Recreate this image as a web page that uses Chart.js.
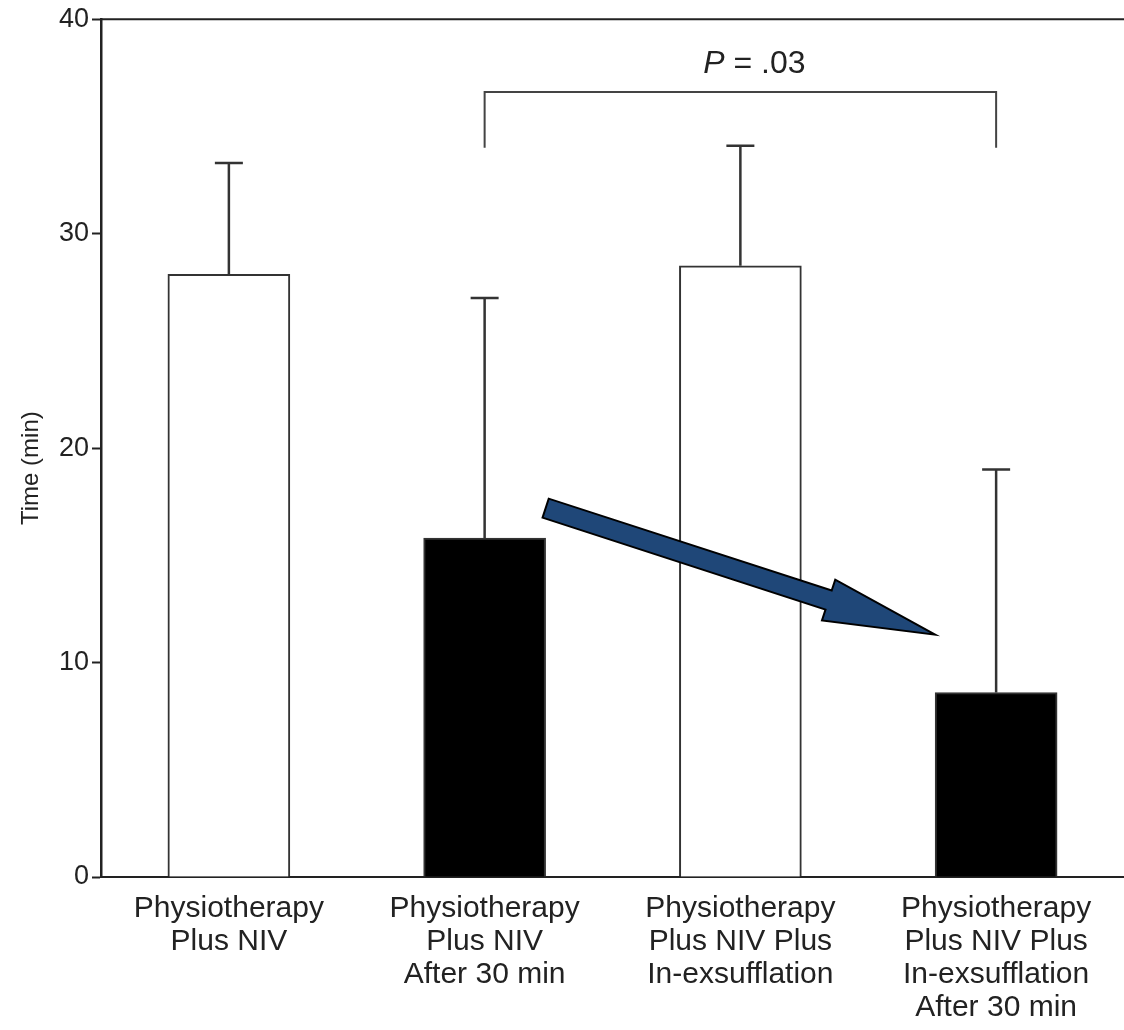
<!DOCTYPE html>
<html lang="en">

<head>
    <meta charset="UTF-8">
    <title>Time (min) by treatment</title>
    <script src="https://cdn.jsdelivr.net/npm/chart.js"></script>
    <style>
        body {
            margin: 0;
            padding: 0;
            background: #fff;
        }

        .wrap {
            width: 1124px;
            height: 1030px;
            position: relative;
        }
    </style>
</head>

<body>
    <div class="wrap">
        <canvas id="timeChart"></canvas>
    </div>

    <script>
        // Data
        const categories = [
            ['Physiotherapy', 'Plus NIV'],
            ['Physiotherapy', 'Plus NIV', 'After 30 min'],
            ['Physiotherapy', 'Plus NIV Plus', 'In-exsufflation'],
            ['Physiotherapy', 'Plus NIV Plus', 'In-exsufflation', 'After 30 min']
        ];
        const meanTime = [28.1, 15.8, 28.5, 8.6];
        const errorTop = [33.3, 27.0, 34.1, 19.0];
        const yTicks = [0, 10, 20, 30, 40];
        const pText = '= .03';
        const compared = [1, 3];

        const FONT = '"Liberation Sans", Arial, sans-serif';
        const INK = '#222';

        // error bars, bracket with P value, the blue arrow and the top frame line
        const extras = {
            id: 'extras',
            afterDatasetsDraw(chart) {
                const ctx = chart.ctx;
                const y = chart.scales.y;
                const area = chart.chartArea;
                const bars = chart.getDatasetMeta(0).data;

                ctx.save();
                ctx.strokeStyle = INK;
                ctx.lineWidth = 2;
                ctx.beginPath();
                ctx.moveTo(area.left, area.top);
                ctx.lineTo(area.right, area.top);
                ctx.stroke();

                // error bars (upper only)
                ctx.strokeStyle = '#333';
                ctx.lineWidth = 2.5;
                bars.forEach((bar, i) => {
                    const top = y.getPixelForValue(errorTop[i]);
                    ctx.beginPath();
                    ctx.moveTo(bar.x, bar.y);
                    ctx.lineTo(bar.x, top);
                    ctx.moveTo(bar.x - 14, top);
                    ctx.lineTo(bar.x + 14, top);
                    ctx.stroke();
                });

                // bracket
                const bx1 = bars[compared[0]].x;
                const bx2 = bars[compared[1]].x;
                const lineY = y.getPixelForValue(36.6);
                const legY = y.getPixelForValue(34.0);
                ctx.lineWidth = 2;
                ctx.strokeStyle = '#444';
                ctx.beginPath();
                ctx.moveTo(bx1, legY);
                ctx.lineTo(bx1, lineY);
                ctx.lineTo(bx2, lineY);
                ctx.lineTo(bx2, legY);
                ctx.stroke();

                // P = .03 (italic P)
                ctx.fillStyle = INK;
                ctx.textBaseline = 'alphabetic';
                const textY = y.getPixelForValue(37.5);
                ctx.font = 'italic 32px ' + FONT;
                const wP = ctx.measureText('P').width;
                ctx.font = '32px ' + FONT;
                const wRest = ctx.measureText(' ' + pText).width;
                const startX = (bx1 + bx2) / 2 + 14 - (wP + wRest) / 2;
                ctx.font = 'italic 32px ' + FONT;
                ctx.textAlign = 'left';
                ctx.fillText('P', startX, textY);
                ctx.font = '32px ' + FONT;
                ctx.fillText(' ' + pText, startX + wP, textY);

                // blue arrow from bar 2 toward bar 4
                const b2 = bars[1], b4 = bars[3];
                const tail = { x: b2.x + b2.width / 2, y: y.getPixelForValue(17.2) };
                const tip = { x: b4.x - b4.width / 2, y: y.getPixelForValue(11.3) };
                const dx = tip.x - tail.x, dy = tip.y - tail.y;
                const len = Math.hypot(dx, dy);
                const ux = dx / len, uy = dy / len;
                const nx = -uy, ny = ux;
                const shaft = 10, head = 21.5, headLen = 112;
                const neck = { x: tip.x - ux * headLen, y: tip.y - uy * headLen };
                const pts = [
                    [tail.x + nx * shaft, tail.y + ny * shaft],
                    [neck.x + nx * shaft, neck.y + ny * shaft],
                    [neck.x + nx * head, neck.y + ny * head],
                    [tip.x, tip.y],
                    [neck.x - nx * head, neck.y - ny * head],
                    [neck.x - nx * shaft, neck.y - ny * shaft],
                    [tail.x - nx * shaft, tail.y - ny * shaft]
                ];
                ctx.beginPath();
                pts.forEach((p, i) => i ? ctx.lineTo(p[0], p[1]) : ctx.moveTo(p[0], p[1]));
                ctx.closePath();
                ctx.fillStyle = '#1f4778';
                ctx.fill();
                ctx.lineWidth = 2;
                ctx.lineJoin = 'miter';
                ctx.strokeStyle = '#000';
                ctx.stroke();

                ctx.restore();
            }
        };

        const ctx = document.getElementById('timeChart').getContext('2d');
        const timeChart = new Chart(ctx, {
            type: 'bar',
            data: {
                labels: categories,
                datasets: [{
                    data: meanTime,
                    backgroundColor: ['#fff', '#000', '#fff', '#000'],
                    borderColor: '#333',
                    borderWidth: 2,
                    barThickness: 122
                }]
            },
            options: {
                responsive: true,
                maintainAspectRatio: false,
                animation: false,
                layout: { padding: { top: 18, right: 0, left: 0, bottom: 0 } },
                plugins: {
                    legend: { display: false },
                    tooltip: { enabled: false }
                },
                scales: {
                    x: {
                        grid: { display: false, drawTicks: false },
                        border: { display: true, color: INK, width: 2 },
                        ticks: {
                            color: INK,
                            padding: 15,
                            maxRotation: 0,
                            autoSkip: false,
                            font: { family: FONT, size: 30, lineHeight: 1.1 }
                        },
                        afterFit(scale) { scale.height = 153; }
                    },
                    y: {
                        min: 0,
                        max: 40,
                        afterBuildTicks(scale) {
                            scale.ticks = yTicks.map(v => ({ value: v }));
                        },
                        grid: {
                            drawOnChartArea: false,
                            drawTicks: true,
                            tickLength: 9,
                            tickWidth: 2,
                            tickColor: INK
                        },
                        border: { display: true, color: INK, width: 2.5 },
                        ticks: {
                            color: INK,
                            padding: 3,
                            font: { family: FONT, size: 27 }
                        },
                        title: {
                            display: true,
                            // trailing spaces nudge the centred title down a little, as in the figure
                            text: 'Time (min)      ',
                            color: INK,
                            padding: { top: 17, bottom: 0 },
                            font: { family: FONT, size: 24 }
                        },
                        afterFit(scale) { scale.width = 101; }
                    }
                }
            },
            plugins: [extras]
        });
    </script>
</body>

</html>
